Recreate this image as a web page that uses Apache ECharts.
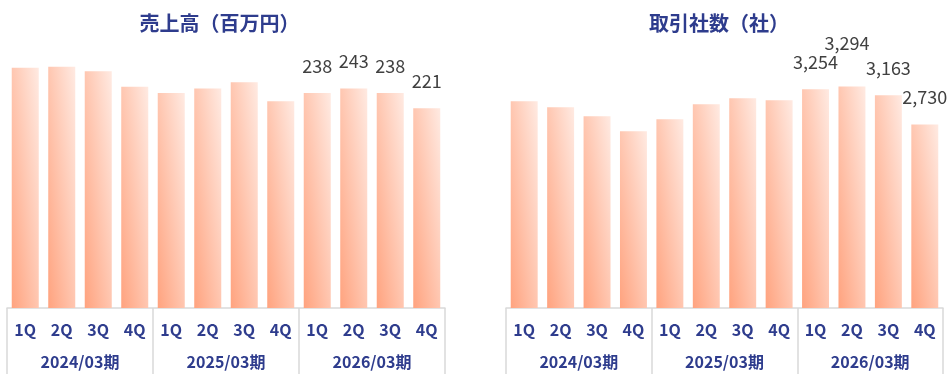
<!DOCTYPE html>
<html>
<head>
<meta charset="utf-8">
<script src="https://cdn.jsdelivr.net/npm/echarts@6/dist/echarts.min.js"></script>
<style>
  html, body { margin: 0; padding: 0; background: #ffffff; }
  #chart { width: 948px; height: 374px; }
</style>
</head>
<body>
<div id="chart"></div>
<script>
// Quarterly figures, three fiscal years (期 ending March)
const quarters = ['1Q', '2Q', '3Q', '4Q'];
const fiscalYears = ['2024/03期', '2025/03期', '2026/03期'];
const salesTitle = '売上高（百万円）';
const clientsTitle = '取引社数（社）';
const sales = [266, 267, 262, 245, 238, 243, 250, 229, 238, 243, 238, 221];
const clients = [3075, 2985, 2850, 2630, 2805, 3030, 3120, 3090, 3254, 3294, 3163, 2730];
// Only the latest fiscal year carries value labels
const labeledYear = '2026/03期';

const FONT = '"Noto Sans CJK JP", "Noto Sans", sans-serif';
const NAVY = '#2E3C8D';
const GRAY = '#D9D9D9';
const SHADE_DARK = '#FFA37F';
const SHADE_LIGHT = '#FFEAE2';

const categories = [];
fiscalYears.forEach(fy => quarters.forEach(q => categories.push(q + '|' + fy)));

function thousands(v) {
  return String(v).replace(/\B(?=(\d{3})+(?!\d))/g, ',');
}

function gradient(x2, y2) {
  return new echarts.graphic.LinearGradient(0, 1, x2, y2, [
    { offset: 0, color: SHADE_DARK },
    { offset: 1, color: SHADE_LIGHT }
  ]);
}

function buildData(values, fmt, raised) {
  return values.map((v, i) => {
    const fy = fiscalYears[Math.floor(i / quarters.length)];
    const item = { value: v };
    if (fy === labeledYear) {
      const lift = raised === i;
      item.label = {
        show: true,
        position: 'top',
        distance: lift ? 34 : 18,
        offset: lift ? [-5, 0] : [0, 0],
        formatter: () => fmt(v)
      };
    }
    return item;
  });
}

// index of the highest bar in the labeled year, lifted so labels do not collide
function peakIndex(values) {
  let best = -1;
  values.forEach((v, i) => {
    const fy = fiscalYears[Math.floor(i / quarters.length)];
    if (fy === labeledYear && (best < 0 || v > values[best])) best = i;
  });
  return best;
}

function quarterAxis(gridIndex) {
  return {
    type: 'category',
    gridIndex,
    position: 'bottom',
    data: categories,
    axisLine: { show: false },
    axisTick: { show: false },
    axisLabel: {
      margin: 14,
      interval: 0,
      color: NAVY,
      fontFamily: FONT,
      fontWeight: 'bold',
      fontSize: 16,
      formatter: v => v.split('|')[0]
    }
  };
}

function yearAxis(gridIndex) {
  return {
    type: 'category',
    gridIndex,
    position: 'bottom',
    offset: 0,
    data: fiscalYears,
    boundaryGap: true,
    axisLine: { show: true, lineStyle: { color: GRAY, width: 1.5 } },
    axisTick: { show: true, length: 66, lineStyle: { color: GRAY, width: 1.5 } },
    axisLabel: {
      margin: 46,
      interval: 0,
      color: NAVY,
      fontFamily: FONT,
      fontWeight: 'bold',
      fontSize: 16
    }
  };
}

const labelStyle = { color: '#404040', fontFamily: FONT, fontSize: 18 };

const chart = echarts.init(document.getElementById('chart'), null, { renderer: 'canvas' });

chart.setOption({
  animation: false,
  backgroundColor: '#ffffff',
  graphic: [
    {
      type: 'text', x: 219.5, y: 23,
      style: { text: salesTitle, textAlign: 'center', textVerticalAlign: 'middle',
               fill: NAVY, font: 'bold 20px ' + FONT }
    },
    {
      type: 'text', x: 719, y: 23,
      style: { text: clientsTitle, textAlign: 'center', textVerticalAlign: 'middle',
               fill: NAVY, font: 'bold 20px ' + FONT }
    }
  ],
  grid: [
    { left: 7, right: 503, top: 37, bottom: 66 },
    { left: 506, right: 5, top: 39, bottom: 66 }
  ],
  xAxis: [quarterAxis(0), yearAxis(0), quarterAxis(1), yearAxis(1)],
  yAxis: [
    { type: 'value', gridIndex: 0, min: 0, max: 300, show: false, splitLine: { show: false } },
    { type: 'value', gridIndex: 1, min: 0, max: 4000, show: false, splitLine: { show: false } }
  ],
  series: [
    {
      type: 'bar', xAxisIndex: 0, yAxisIndex: 0,
      barCategoryGap: '26%',
      itemStyle: { color: gradient(2, 0.98) },
      label: labelStyle,
      data: buildData(sales, v => String(v), -1)
    },
    {
      type: 'bar', xAxisIndex: 2, yAxisIndex: 1,
      barCategoryGap: '26%',
      itemStyle: { color: gradient(2, 0.98) },
      label: labelStyle,
      data: buildData(clients, thousands, peakIndex(clients))
    }
  ]
});

// Diagonal shading per bar: lightness rises evenly with both width and height
// of each bar, so the gradient end point depends on the bar's drawn size.
function shadeSeries(xAxisIndex, yAxisIndex, values) {
  const finder = { xAxisIndex, yAxisIndex };
  const base = chart.convertToPixel(finder, [0, 0]);
  const next = chart.convertToPixel(finder, [1, 0]);
  const W = Math.abs(next[0] - base[0]) * 0.74;
  return values.map((v, i) => {
    const top = chart.convertToPixel(finder, [i, v]);
    const H = Math.max(1, base[1] - top[1]);
    const gx = 1 / (2 * W), gy = 1 / (2 * H);
    const g2 = gx * gx + gy * gy;
    return gradient((gx / g2) / W, 1 - (gy / g2) / H);
  });
}

function withShade(data, shades) {
  return data.map((d, i) => Object.assign({}, d, { itemStyle: { color: shades[i] } }));
}

chart.setOption({
  series: [
    { data: withShade(buildData(sales, v => String(v), -1), shadeSeries(0, 0, sales)) },
    { data: withShade(buildData(clients, thousands, peakIndex(clients)), shadeSeries(2, 1, clients)) }
  ]
});
</script>
</body>
</html>
